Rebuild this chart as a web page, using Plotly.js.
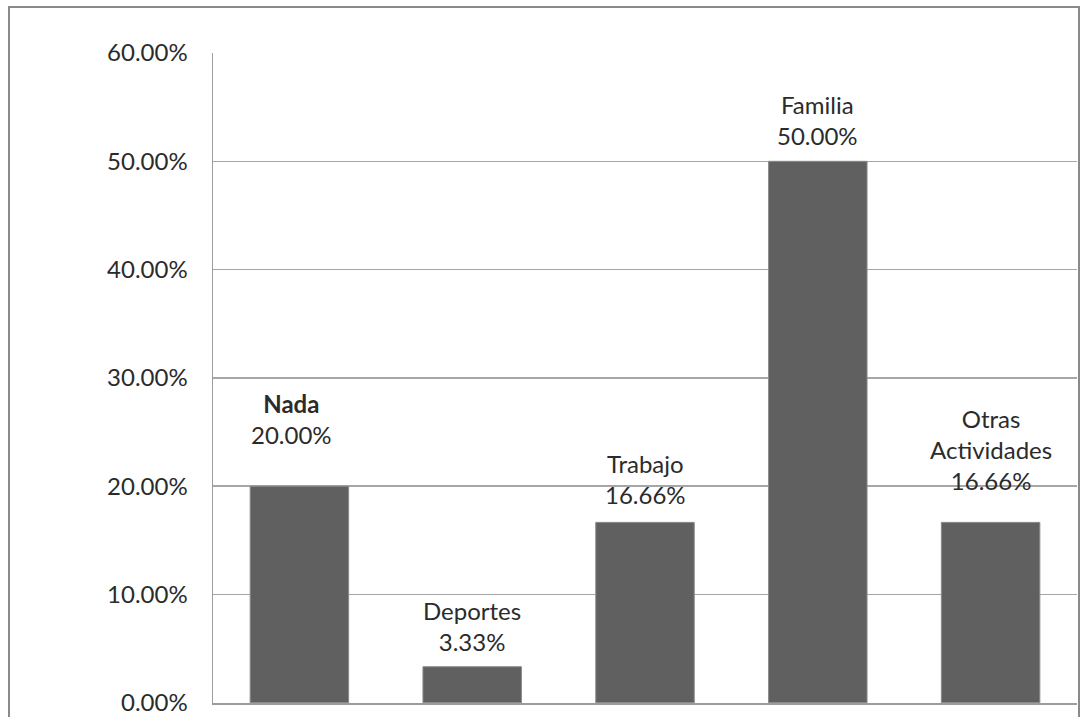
<!DOCTYPE html>
<html>
<head>
<meta charset="utf-8">
<script src="https://cdn.plot.ly/plotly-3.0.1.min.js"></script>
<style>
  html, body { margin: 0; padding: 0; background: #ffffff; }
  #wrap { position: relative; width: 1081px; height: 717px; overflow: hidden; }
  #chart { position: absolute; left: 0; top: 0; width: 1081px; height: 717px; }
  /* chart-area frame: left, top and right edges */
  #frame { position: absolute; left: 8px; top: 6px; width: 1068px; height: 760px;
           border: 2.5px solid #8a8a8a; pointer-events: none; }
</style>
</head>
<body>
<div id="wrap">
  <div id="chart"></div>
  <div id="frame"></div>
</div>
<script>
// Share of responses per activity (percent)
var categories = ['Nada', 'Deportes', 'Trabajo', 'Familia', 'Otras Actividades'];
var values = [20.00, 3.33, 16.66, 50.00, 16.66];
// Label headings written above each bar
var headings = ['<b>Nada</b>', 'Deportes', 'Trabajo', 'Familia', 'Otras<br>Actividades'];
var tickValues = [0, 10, 20, 30, 40, 50, 60];
var tickLabels = ['0.00%', '10.00%', '20.00%', '30.00%', '40.00%', '50.00%', '60.00%'];

// vertical gap between each bar top and its label (px)
var labelGaps = [35, 9, 11, 9, 25];
var labelShiftX = [-8, 0, 0, 0, 0];

var FONT = 'Lato, "Open Sans", sans-serif';
var TEXT = '#2b2b2b';

var trace = {
  type: 'bar',
  x: categories,
  y: values,
  marker: { color: '#606060', line: { color: '#8c8c8c', width: 1 } },
  hoverinfo: 'x+y'
};

var annotations = categories.map(function (c, i) {
  return {
    x: c, y: values[i], xref: 'x', yref: 'y',
    text: headings[i] + '<br>' + values[i].toFixed(2) + '%',
    showarrow: false, xanchor: 'center', yanchor: 'bottom',
    yshift: labelGaps[i], xshift: labelShiftX[i],
    align: 'center',
    font: { family: FONT, size: 24, color: TEXT }
  };
});

var layout = {
  width: 1081, height: 717,
  margin: { l: 213, r: 4, t: 53, b: 14, pad: 0 },
  paper_bgcolor: '#ffffff', plot_bgcolor: '#ffffff',
  showlegend: false,
  bargap: 0.43,
  xaxis: {
    type: 'category',
    showticklabels: false, ticks: '',
    showgrid: false, zeroline: false,
    showline: true, linecolor: '#9c9c9c', linewidth: 1.5,
    fixedrange: true
  },
  yaxis: {
    range: [-0.02, 60],
    tickmode: 'array', tickvals: tickValues, ticktext: tickLabels,
    ticks: '', ticklabelstandoff: 19,
    tickfont: { family: FONT, size: 24, color: TEXT },
    showgrid: true, gridcolor: '#a6a6a6', gridwidth: 1.5,
    zeroline: false,
    showline: true, linecolor: '#9c9c9c', linewidth: 1.5,
    fixedrange: true
  },
  annotations: annotations
};

Plotly.newPlot('chart', [trace], layout, { displayModeBar: false, staticPlot: true });
</script>
</body>
</html>
